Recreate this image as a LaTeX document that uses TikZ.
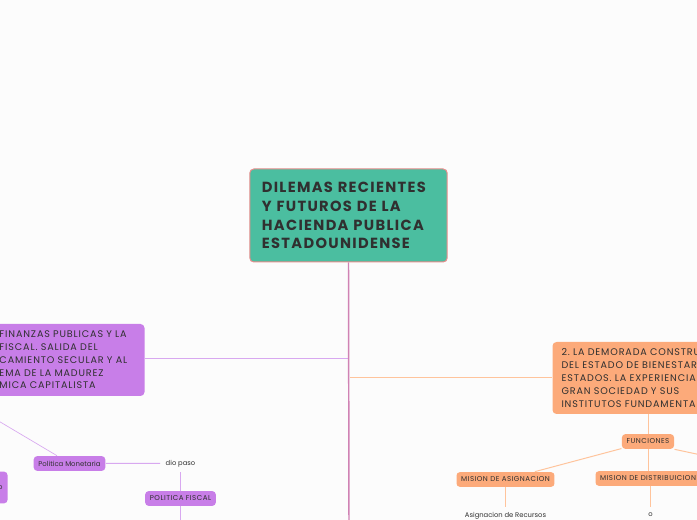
\documentclass[tikz,border=0pt]{standalone}
\usepackage{fontspec}
\setmainfont{Poppins}
\frenchspacing

\definecolor{bgwhite}{RGB}{252,252,252}
\definecolor{maingreen}{RGB}{75,190,160}
\definecolor{mainborder}{RGB}{232,140,140}
\definecolor{topicpurple}{RGB}{200,126,232}
\definecolor{topicorange}{RGB}{252,170,122}
\definecolor{linepurple}{RGB}{216,168,240}
\definecolor{lineorange}{RGB}{255,196,156}
\definecolor{linetrunk}{RGB}{208,130,180}
\definecolor{txtdark}{RGB}{48,48,48}

\tikzset{every picture/.style={line width=0.75pt}}
\tikzset{
  mainbox/.style={draw=mainborder, fill=maingreen, rounded corners=3pt, text=txtdark,
    font=\fontsize{11}{14}\selectfont\bfseries\addfontfeature{LetterSpace=9},
    align=left, text width=130pt, minimum width=147.75pt, minimum height=69.75pt, inner xsep=9pt},
  topicbox/.style={rounded corners=3pt, text=txtdark,
    font=\fontsize{7.2}{9.6}\selectfont\addfontfeature{LetterSpace=9},
    align=left, minimum height=54pt},
  subbox/.style={rounded corners=2.5pt, text=txtdark, font=\fontsize{5.2}{6}\selectfont,
    minimum height=11pt, inner xsep=3.5pt, inner ysep=1pt},
  capsbox/.style={subbox, font=\fontsize{5.3}{6}\selectfont\addfontfeature{LetterSpace=7}},
  plaintext/.style={text=txtdark, font=\fontsize{5.1}{6}\selectfont, inner sep=3.75pt},
  purpleline/.style={draw=linepurple},
  orangeline/.style={draw=lineorange}
}

\begin{document}
\begin{tikzpicture}[x=0.75pt,y=0.75pt,yscale=-1,xscale=1]
  \path[use as bounding box, fill=bgwhite] (0,0) rectangle (697,520);
  \clip (0,0) rectangle (697,520);

  % Central topic
  \node[mainbox] (main) at (348.5,215.5) {DILEMAS RECIENTES\\Y FUTUROS DE LA\\HACIENDA PUBLICA\\ESTADOUNIDENSE};

  % Main topics
  \node[topicbox, fill=topicpurple, anchor=east, text width=99.75pt, inner xsep=9pt] (topic1) at (145,360)
    {FINANZAS PUBLICAS Y LA\\FISCAL. SALIDA DEL\\CAMIENTO SECULAR Y AL\\EMA DE LA MADUREZ\\MICA CAPITALISTA};
  \node[topicbox, fill=topicorange, anchor=west, text width=140pt, inner xsep=6.75pt] (topic2) at (552,378)
    {2. LA DEMORADA CONSTRU\\DEL ESTADO DE BIENESTAR\\ESTADOS. LA EXPERIENCIA\\GRAN SOCIEDAD Y SUS\\INSTITUTOS FUNDAMENTA};

  % Subtopics, left
  \node[subbox, fill=topicpurple] (monetaria) at (69.5,463.5) {Politica Monetaria};
  \node[plaintext] (diopaso) at (180.5,463.3) {dio paso};
  \node[capsbox, fill=topicpurple] (fiscal) at (180.5,498.5) {POLITICA FISCAL};
  \node[subbox, fill=topicpurple, anchor=east, align=right, text width=50pt, minimum height=23.7pt,
    inner xsep=3.75pt] (leftcut) at (8,487.5) {o};

  % Subtopics, right
  \node[capsbox, fill=topicorange] (funciones) at (648,441.5) {FUNCIONES};
  \node[capsbox, fill=topicorange] (asignacion) at (505.5,479.5) {MISION DE ASIGNACION};
  \node[capsbox, fill=topicorange, anchor=west] (distribucion) at (595,478.5) {MISION DE DISTRIBUICION};
  \node[plaintext] (recursos) at (505.5,516) {Asignacion de Recursos};
  \node[plaintext] (ocoord) at (650.5,514.5) {o};

  % free ends
  \coordinate (trunkend) at (349,525);
  \coordinate (j1) at (348,359);
  \coordinate (j2) at (350,378);
  \coordinate (m0) at (-20,410);
  \coordinate (fisend) at (180.5,525);
  \coordinate (f3) at (720,459);

  % Connectors
  \draw[purpleline] (topic1.east |- j1) -- (j1);
  \draw[orangeline] (j2) -- (topic2.west |- j2);
  \draw[draw=linetrunk, line width=1.1pt] (main.south) -- (trunkend);
  \draw[purpleline, line width=0.5pt] (m0) -- ([xshift=-9.4pt]monetaria.north);
  \draw[purpleline] (monetaria.east) -- (diopaso.west);
  \draw[purpleline] (diopaso.south) -- (fiscal.north);
  \draw[purpleline] (fiscal.south) -- (fisend);
  \draw[orangeline] (funciones.north |- topic2.south) -- (funciones.north);
  \draw[orangeline] (funciones) -- (asignacion);
  \draw[orangeline] (funciones.south) -- (funciones.south |- distribucion.north);
  \draw[orangeline] (funciones.south east) -- (f3);
  \draw[orangeline] (asignacion.south) -- (recursos.north);
  \draw[orangeline] (ocoord |- distribucion.south) -- (ocoord.north);
\end{tikzpicture}
\end{document}
